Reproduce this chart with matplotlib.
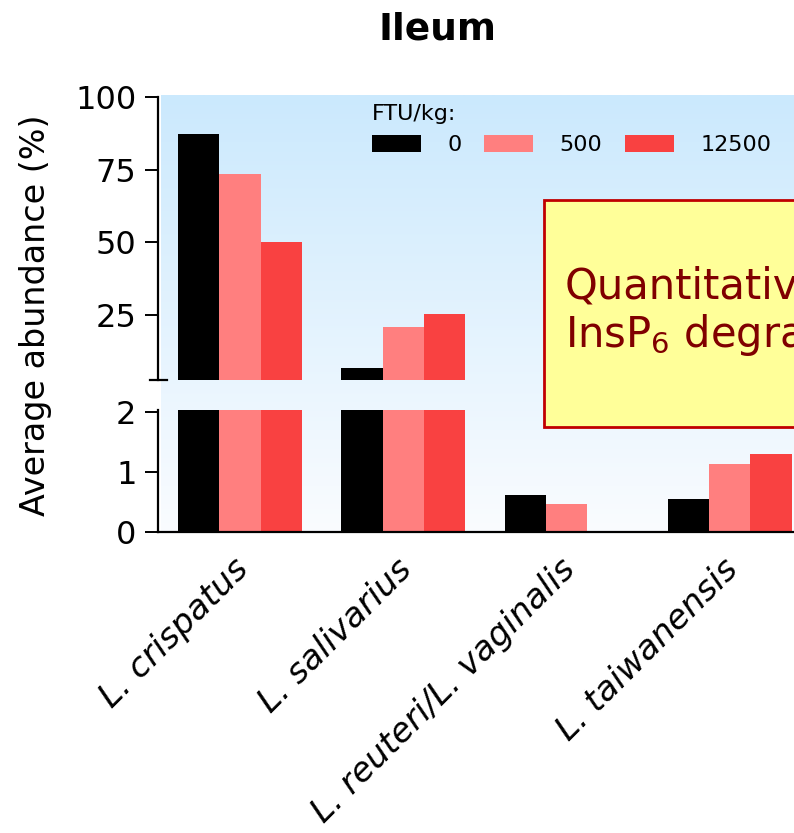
import matplotlib
matplotlib.use("Agg")
import matplotlib.pyplot as plt
import numpy as np
from matplotlib.patches import Rectangle
from matplotlib.transforms import ScaledTranslation

# Average Lactobacillus abundance in the ileum per phytase level
species = ['L. crispatus', 'L. salivarius', 'L. reuteri/L. vaginalis', 'L. taiwanensis']
doses = ['0', '500', '12500']
ftu_0 = [87.3, 6.8, 0.62, 0.55]
ftu_500 = [73.5, 20.9, 0.47, 1.13]
ftu_12500 = [50.1, 25.4, 0.0, 1.30]

colors = ['#000000', '#ff7f7f', '#f94141']
W, H = 794, 833

fig = plt.figure(figsize=(W / 100, H / 100), dpi=100)

def frac(x0, y0, x1, y1):
    # pixel box (top-left origin) -> figure fraction rect
    return [x0 / W, 1 - y1 / H, (x1 - x0) / W, (y1 - y0) / H]

# blue-to-white backdrop behind both segments
bg = fig.add_axes(frac(161, 95, 800, 533), zorder=0)
grad = np.linspace(0, 1, 256)[:, None]
top_c = np.array([203, 233, 253]) / 255
bot_c = np.array([250, 252, 255]) / 255
img = top_c[None, None, :] * (1 - grad[:, :, None]) + bot_c[None, None, :] * grad[:, :, None]
bg.imshow(img, aspect='auto', extent=[0, 1, 0, 1])
bg.set_axis_off()

ax_top = fig.add_axes(frac(158, 97, 800, 380), zorder=2)
ax_bot = fig.add_axes(frac(158, 410, 800, 532), zorder=2)

x = np.arange(len(species))
bw = 0.253
series = [ftu_0, ftu_500, ftu_12500]
for ax in (ax_top, ax_bot):
    for i, vals in enumerate(series):
        ax.bar(x + (i - 1) * bw, vals, width=bw, color=colors[i],
               label=doses[i], edgecolor='none')
    ax.set_xlim(-0.503, 3.43)
    ax.patch.set_alpha(0)
    for s in ('top', 'right'):
        ax.spines[s].set_visible(False)
    ax.spines['left'].set_linewidth(1.6)
    ax.tick_params(axis='y', length=9.5, width=1.4, labelsize=23, pad=6)

ax_top.set_ylim(2.64, 100)
ax_top.set_yticks([25, 50, 75, 100])
ax_top.spines['bottom'].set_visible(False)
ax_top.set_xticks([])
# break mark at the bottom of the upper segment
ax_top.plot([-0.012, 0.014], [0, 0], transform=ax_top.transAxes,
            color='black', lw=1.6, clip_on=False)

ax_bot.set_ylim(0, 2.033)
ax_bot.set_yticks([0, 1, 2])
ax_bot.spines['bottom'].set_linewidth(1.6)
ax_bot.set_xticks(x)
ax_bot.set_xticklabels(species, rotation=45, ha='right', va='top',
                       rotation_mode='anchor', fontsize=24.5, style='italic')
ax_bot.tick_params(axis='x', length=0, pad=15)
shift = ScaledTranslation(-8 / 100, 0, fig.dpi_scale_trans)
for lbl in ax_bot.get_xticklabels():
    lbl.set_transform(lbl.get_transform() + shift)

fig.text(36 / W, 1 - 315 / H, 'Average abundance (%)', rotation=90,
         ha='center', va='center', fontsize=24)
fig.text(437 / W, 1 - 30 / H, 'Ileum', ha='center', va='center',
         fontsize=27, fontweight='bold')

handles, labels = ax_top.get_legend_handles_labels()
leg = fig.legend(handles, labels, title='FTU/kg:', loc='upper left',
                 bbox_to_anchor=(361 / W, 1 - 93 / H), ncol=3, frameon=False,
                 fontsize=16, title_fontsize=16, handlelength=2.2,
                 handleheight=0.75, handletextpad=1.2, columnspacing=1.0,
                 borderpad=0, alignment='left')

# highlighted note box, running off the right edge
fig.patches.append(Rectangle((544 / W, 1 - 427 / H), 400 / W, 227 / H,
                             transform=fig.transFigure, facecolor='#ffff99',
                             edgecolor='#c00000', lw=2, zorder=3))
fig.text(565 / W, 1 - 312 / H, 'Quantitative\nInsP$_6$ degradation',
         ha='left', va='center', fontsize=30, color='#800000',
         linespacing=1.12, zorder=4)

fig.savefig('out.png', dpi=100)
